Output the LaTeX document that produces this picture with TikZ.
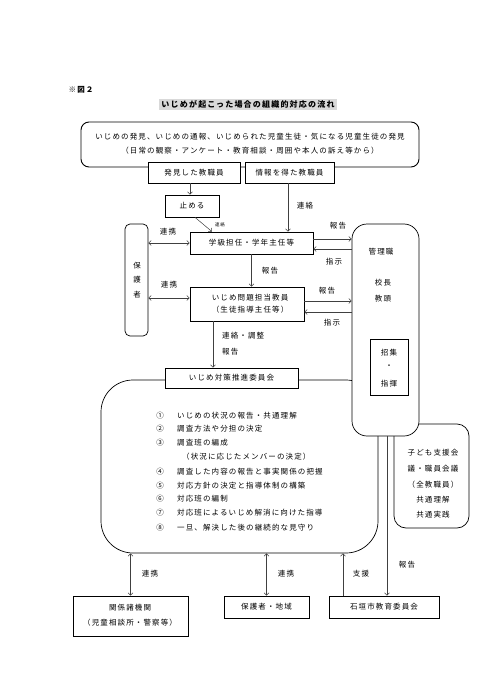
\documentclass[tikz,border=0pt]{standalone}
\usepackage{fontspec}
\setmainfont{Noto Sans CJK JP}[LetterSpace=15]
\usetikzlibrary{arrows.meta}
\tikzset{
  box/.style={draw=black, line width=0.7pt, fill=white, inner sep=0pt, align=center},
  lbl/.style={inner sep=0pt},
  tip/.tip={Straight Barb[length=2.5pt,width=5pt]},
  arr/.style={draw=black!75, line width=0.5pt, -tip},
  darr/.style={draw=black!75, line width=0.5pt, tip-tip},
}
\begin{document}
\begin{tikzpicture}[x=1pt,y=-1pt,font=\fontsize{7.5}{9}\selectfont]
\useasboundingbox (0,0) rectangle (492,698);
% heading
\node[lbl,font=\fontsize{7.5}{9}\selectfont\bfseries] (fig) at (81,90) {※図２};
\node[lbl,fill=black!15,inner xsep=2pt,inner ysep=1.5pt,font=\fontsize{8}{9}\selectfont\bfseries] (title) at (248,104.5) {いじめが起こった場合の組織的対応の流れ};
% top box
\node[box,rounded corners=8pt,line width=0.9pt,minimum width=338,minimum height=45] (top) at (250,144.5) {};
\node[lbl] (t1) at (250,137) {いじめの発見、いじめの通報、いじめられた児童生徒・気になる児童生徒の発見};
\node[lbl] (t2) at (250,151) {（日常の観察・アンケート・教育相談・周囲や本人の訴え等から）};
\node[box,minimum width=92,minimum height=21] (hak) at (194,172.5) {発見した教職員};
\node[box,minimum width=89,minimum height=21] (jou) at (289.5,172.5) {情報を得た教職員};
\node[box,minimum width=54,minimum height=22] (tom) at (192,206) {止める};
% big committee box, kodomo box, kanri box
\node[box,rounded corners=32pt,minimum width=277,minimum height=173] (big) at (239.5,466.5) {};
\node[box,rounded corners=12pt,minimum width=75,minimum height=104] (kod) at (431.5,476) {};
\node[lbl] (k1) at (433,453) {子ども支援会};
\node[lbl] (k2) at (433,469) {議・職員会議};
\node[lbl] (k3) at (433,485) {（全教職員）};
\node[lbl] (k4) at (433,500) {共通理解};
\node[lbl] (k5) at (433,515) {共通実践};
\node[box,rounded corners=15pt,minimum width=67,minimum height=212] (kan) at (385.5,330) {};
\node[lbl] (kan1) at (381,252) {管理職};
\node[lbl] (kan2) at (383,283) {校長};
\node[lbl] (kan3) at (383,299) {教頭};
\node[box,minimum width=38,minimum height=56] (shu) at (389,367) {};
\node[lbl] (s1) at (389,353) {招集};
\node[lbl] (s2) at (389,367) {・};
\node[lbl] (s3) at (389,384) {指揮};
% guardian box
\node[box,rounded corners=5pt,minimum width=23,minimum height=112] (hog) at (136.5,280) {};
\node[lbl] (h1) at (137,266) {保};
\node[lbl] (h2) at (137,280) {護};
\node[lbl] (h3) at (137,295) {者};
% middle boxes
\node[box,minimum width=123,minimum height=22] (kyu) at (251.5,243) {学級担任・学年主任等};
\node[box,minimum width=114,minimum height=34] (ijm) at (247,304) {};
\node[lbl] (ij1) at (250,298) {いじめ問題担当教員};
\node[lbl] (ij2) at (250,310) {（生徒指導主任等）};
\node[box,minimum width=133,minimum height=20] (iin) at (231.5,378) {いじめ対策推進委員会};
% items
\node[lbl] (n1) at (160,416) {①};
\node[lbl,anchor=west] (i1) at (177,416) {いじめの状況の報告・共通理解};
\node[lbl] (n2) at (160,429) {②};
\node[lbl,anchor=west] (i2) at (177,429) {調査方法や分担の決定};
\node[lbl] (n3) at (160,443) {③};
\node[lbl,anchor=west] (i3) at (177,443) {調査班の編成};
\node[lbl,anchor=west] (i3b) at (182,457) {（状況に応じたメンバーの決定）};
\node[lbl] (n4) at (160,472) {④};
\node[lbl,anchor=west] (i4) at (177,472) {調査した内容の報告と事実関係の把握};
\node[lbl] (n5) at (160,486) {⑤};
\node[lbl,anchor=west] (i5) at (177,486) {対応方針の決定と指導体制の構築};
\node[lbl] (n6) at (160,499) {⑥};
\node[lbl,anchor=west] (i6) at (177,499) {対応班の編制};
\node[lbl] (n7) at (160,513) {⑦};
\node[lbl,anchor=west] (i7) at (177,513) {対応班によるいじめ解消に向けた指導};
\node[lbl] (n8) at (160,528) {⑧};
\node[lbl,anchor=west] (i8) at (177,528) {一旦、解決した後の継続的な見守り};
% bottom boxes
\node[box,minimum width=115,minimum height=40] (kei) at (130.5,616) {};
\node[lbl] (ke1) at (130,608) {関係諸機関};
\node[lbl] (ke2) at (130,623) {（児童相談所・警察等）};
\node[box,minimum width=85,minimum height=22] (hoc) at (266.5,607) {保護者・地域};
\node[box,minimum width=110,minimum height=22] (ish) at (384,607) {石垣市教育委員会};
% connectors
\draw[arr] ([xshift=-4pt]hak.south) -- ([xshift=-4pt]hak.south |- tom.north);
\draw[arr] ([xshift=3pt]tom.south) -- ([xshift=-39.5pt]kyu.north);
\node[lbl,font=\fontsize{4.5}{5}\selectfont] (renS) at (220,225) {連絡};
\draw[arr] ([xshift=-1.5pt]jou.south) -- ([xshift=-1.5pt]jou.south |- kyu.north);
\node[lbl] (ren1) at (305,206) {連絡};
\draw[darr] (hog.east |- kyu.west) -- (kyu.west);
\node[lbl] (rk1) at (168,232) {連携};
\coordinate (p2) at ([yshift=6pt]ijm.west);
\draw[darr] (hog.east |- p2) -- (p2);
\node[lbl] (rk2) at (169,285) {連携};
\draw[arr] (kyu.south) -- (kyu.south |- ijm.north);
\node[lbl] (hk0) at (270,271) {報告};
\draw[arr] ([yshift=4pt]kyu.east) -- ([yshift=4pt]kyu.east -| kan.west);
\draw[arr] ([yshift=-6pt]kyu.east -| kan.west) -- ([yshift=-6pt]kyu.east);
\node[lbl] (hk1) at (338,226) {報告};
\node[lbl] (sj1) at (334,262) {指示};
\draw[arr] ([yshift=3pt]ijm.east) -- ([yshift=3pt]ijm.east -| kan.west);
\draw[arr] ([yshift=-8pt]ijm.east -| kan.west) -- ([yshift=-8pt]ijm.east);
\node[lbl] (hk2) at (327,291) {報告};
\node[lbl] (sj2) at (332,323) {指示};
\draw[arr] ([xshift=-34pt]ijm.south) -- ([xshift=-34pt]ijm.south |- iin.north);
\node[lbl,anchor=west] (rc) at (222,336) {連絡・調整};
\node[lbl,anchor=west] (hk3) at (222,352) {報告};
\draw[darr] (big.south -| kei.north) -- (kei.north);
\node[lbl] (rk3) at (150,574) {連携};
\draw[darr] (big.south -| hoc.north) -- (hoc.north);
\node[lbl] (rk4) at (286,574) {連携};
\draw[arr] ([xshift=-41pt]ish.north) -- ([xshift=-41pt]ish.north |- big.south);
\node[lbl] (sen) at (361,574) {支援};
\draw[arr] ([xshift=1.5pt]kan.south) -- ([xshift=1.5pt]kan.south |- ish.north);
\node[lbl] (hk4) at (407,565) {報告};
\end{tikzpicture}
\end{document}
